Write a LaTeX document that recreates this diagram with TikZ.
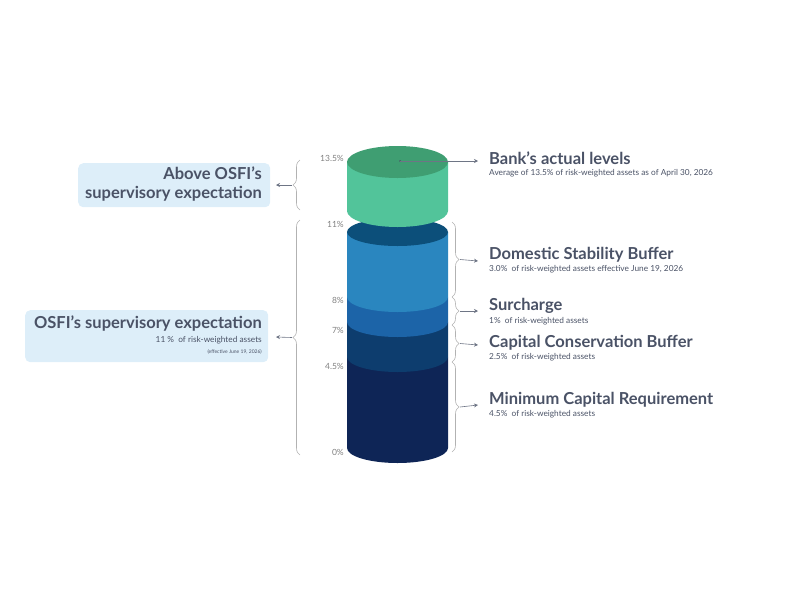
\documentclass[tikz,border=0pt]{standalone}
\usepackage{fontspec}
\setmainfont{Lato}
\usetikzlibrary{decorations.pathreplacing,arrows.meta}
\definecolor{ttl}{HTML}{4A5266}
\definecolor{grn}{HTML}{52C49A}
\definecolor{grntop}{HTML}{3F9E72}
\definecolor{dsb}{HTML}{2A86BF}
\definecolor{sur}{HTML}{1C64A8}
\definecolor{ccb}{HTML}{0D3D6E}
\definecolor{mcr}{HTML}{0E2556}
\definecolor{btop}{HTML}{0C4F7A}
\definecolor{boxc}{HTML}{DDEEF9}
\tikzset{
 brc/.style={draw=gray!60,line width=0.6pt,decorate,decoration={brace,amplitude=7pt}},
 arr/.style={draw=ttl!80,line width=0.6pt,-{Stealth[length=4pt,width=4pt]}},
 ttlt/.style={font=\bfseries\fontsize{16.5}{18}\selectfont,text=ttl,inner sep=0pt},
 subt/.style={font=\fontsize{8.3}{9}\selectfont,text=ttl,inner sep=0pt},
 pct/.style={font=\fontsize{8.5}{9}\selectfont,text=gray,anchor=east,inner sep=0pt},
 lbox/.style={fill=boxc,rounded corners=5pt,draw=none}
}
\newcommand{\layer}[3]{\fill[#3] (347,#1) -- (347,#2) arc[start angle=180,end angle=0,x radius=50.5,y radius=15] -- (448,#1) -- cycle;}
\begin{document}
\begin{tikzpicture}[x=1pt,y=-1pt]
\useasboundingbox (0,0) rectangle (800,600);
% blue stack
\layer{357}{448}{mcr}
\layer{322}{357}{ccb}
\layer{297}{322}{sur}
\layer{232}{297}{dsb}
\fill[btop] (397.5,232) ellipse[x radius=50.5,y radius=14];
% green
\fill[grn] (347,162) -- (347,211) arc[start angle=180,end angle=0,x radius=50.5,y radius=16] -- (448,162) -- cycle;
\fill[grntop] (397.5,162) ellipse[x radius=50.5,y radius=16];
% percentages
\node[pct] at (344,158) {13.5\%};
\node[pct] at (344,224) {11\%};
\node[pct] at (344,300) {8\%};
\node[pct] at (344,330) {7\%};
\node[pct] at (344,366) {4.5\%};
\node[pct] at (344,452) {0\%};
% left braces
\draw[brc] (300,210) -- coordinate[pos=0.5,xshift=-8pt] (tA) (300,160);
\draw[brc] (300,455) -- coordinate[pos=0.5,xshift=-8pt] (tB) (300,220);
\node[lbox,minimum width=192pt,minimum height=44pt,anchor=north west] (boxA) at (78,163) {};
\node[lbox,minimum width=243pt,minimum height=52pt,anchor=north west] (boxB) at (25,310) {};
\coordinate (aA) at (276,185); \coordinate (aB) at (276,337);
\draw[arr] (tA) -- (aA);
\draw[arr] (tB) -- (aB);
\node[ttlt,anchor=north east,align=right] (tA1) at (262,167) {Above OSFI's\\[1pt]supervisory expectation};
\node[ttlt,anchor=north east] (tB1) at (262,316) {OSFI's supervisory expectation};
\node[subt,anchor=north east] (tB2) at (262,336) {11 \%\ \ of risk-weighted assets};
\node[subt,anchor=north east,font=\fontsize{5}{5}\selectfont] (tB3) at (262,349) {(effective June 19, 2026)};
% right braces
\draw[brc] (452,222) -- coordinate[pos=0.5,xshift=8pt] (r1) (452,297);
\draw[brc] (452,297) -- coordinate[pos=0.5,xshift=8pt] (r2) (452,325);
\draw[brc] (452,325) -- coordinate[pos=0.5,xshift=8pt] (r3) (452,362);
\draw[brc] (452,362) -- coordinate[pos=0.5,xshift=8pt] (r4) (452,452);
\coordinate (e1) at (478,261); \coordinate (e2) at (478,311);
\coordinate (e3) at (478,345); \coordinate (e4) at (478,405);
\draw[arr] (r1) -- (e1); \draw[arr] (r2) -- (e2); \draw[arr] (r3) -- (e3); \draw[arr] (r4) -- (e4);
\coordinate (dot) at (400,161); \coordinate (e0) at (478,161);
\fill[ttl] (dot) circle (1pt);
\draw[arr] (dot) -- (e0);
% right texts
\node[ttlt,anchor=west] (n0) at (489,158) {Bank's actual levels};
\node[subt,anchor=west] (s0) at (489,173) {Average of 13.5\% of risk-weighted assets as of April 30, 2026};
\node[ttlt,anchor=west] (n1) at (489,255) {Domestic Stability Buffer};
\node[subt,anchor=west] (s1) at (489,269) {3.0\%\ \ of risk-weighted assets effective June 19, 2026};
\node[ttlt,anchor=west] (n2) at (489,306) {Surcharge};
\node[subt,anchor=west] (s2) at (489,321) {1\%\ \ of risk-weighted assets};
\node[ttlt,anchor=west] (n3) at (489,343) {Capital Conservation Buffer};
\node[subt,anchor=west] (s3) at (489,357) {2.5\%\ \ of risk-weighted assets};
\node[ttlt,anchor=west] (n4) at (489,400) {Minimum Capital Requirement};
\node[subt,anchor=west] (s4) at (489,414) {4.5\%\ \ of risk-weighted assets};
\end{tikzpicture}
\end{document}
